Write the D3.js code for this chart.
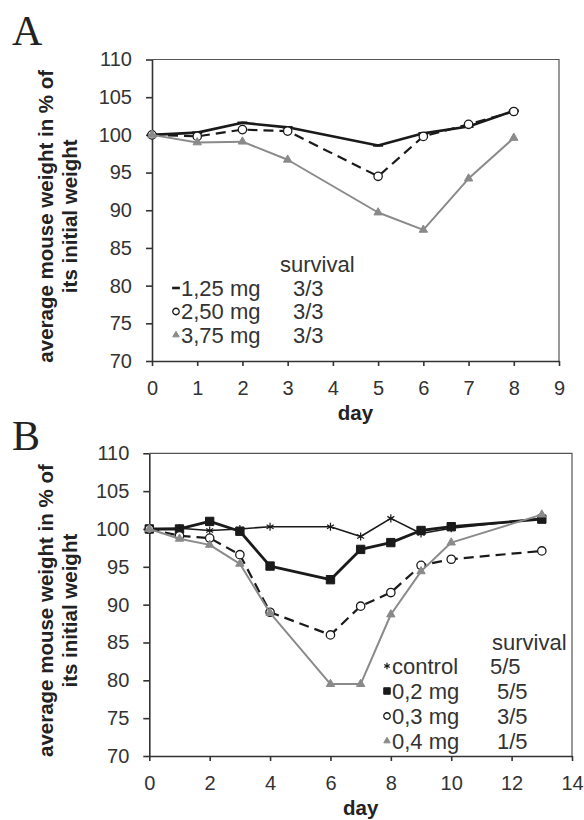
<!DOCTYPE html>
<html>
<head>
<meta charset="utf-8">
<script src="https://cdn.jsdelivr.net/npm/d3@7"></script>
<style>
    body { margin: 0; background: #fff; }
    svg text { font-family: "Liberation Sans", Arial, sans-serif; }
    .tick text { font-size: 20px; fill: #333; }
    .axis path, .axis line { stroke: #333; stroke-width: 1.6; }
    .frame { stroke: #555; stroke-width: 1.2; fill: none; }
    .ytitle, .xtitle { font-weight: bold; font-size: 20.5px; fill: #222; }
    .panel-label { font-family: "Liberation Serif", "Times New Roman", serif !important; font-size: 42px; fill: #222; }
    .legend text { font-size: 22px; fill: #333; }
</style>
</head>
<body>
<svg id="svg" width="584" height="820"></svg>
<script>
// panel A
const daysA = [0, 1, 2, 3, 5, 6, 7, 8];
const mg125 = [100, 100.3, 101.6, 101.0, 98.6, 100.2, 101.1, 103.2];
const mg250 = [100, 99.8, 100.7, 100.5, 94.5, 99.8, 101.4, 103.1];
const mg375 = [100, 99.0, 99.1, 96.7, 89.7, 87.4, 94.2, 99.6];
const labelsA = ['1,25 mg', '2,50 mg', '3,75 mg'];
const survivalA = ['3/3', '3/3', '3/3'];
const xTicksA = [0, 1, 2, 3, 4, 5, 6, 7, 8, 9];

// panel B
const daysB = [0, 1, 2, 3, 4, 6, 7, 8, 9, 10, 13];
const control = [100, 100.1, 99.8, 100, 100.3, 100.3, 99.0, 101.4, 99.4, 100.1, 101.4];
const mg02 = [100, 100, 101, 99.7, 95.1, 93.3, 97.3, 98.2, 99.8, 100.3, 101.3];
const mg03 = [100, 99.1, 98.8, 96.6, 89, 86, 89.8, 91.6, 95.2, 96, 97.1];
const mg04 = [100, 98.7, 97.9, 95.4, 88.9, 79.5, 79.5, 88.7, 94.4, 98.2, 101.9];
const labelsB = ['control', '0,2 mg', '0,3 mg', '0,4 mg'];
const survivalB = ['5/5', '5/5', '3/5', '1/5'];
const xTicksB = [0, 2, 4, 6, 8, 10, 12, 14];

const yTicks = [70, 75, 80, 85, 90, 95, 100, 105, 110];

// marker shapes
const symDash = {
    draw(ctx, size) {
        const w = Math.sqrt(size) / 2;
        ctx.moveTo(-w, 0);
        ctx.lineTo(w, 0);
    }
};

const styles = {
    dash:     {stroke: '#1a1a1a', width: 2.6, dasharray: null, symbol: symDash, size: 100, fill: 'none', mstroke: '#1a1a1a', mwidth: 2.6},
    circle:   {stroke: '#1a1a1a', width: 2.2, dasharray: '10,6', symbol: d3.symbolCircle, size: 55, fill: '#fff', mstroke: '#1a1a1a', mwidth: 1.3},
    triangle: {stroke: '#8a8a8a', width: 2, dasharray: null, symbol: d3.symbolTriangle, size: 30, fill: '#8a8a8a', mstroke: '#8a8a8a', mwidth: 1},
    star:     {stroke: '#1a1a1a', width: 1.6, dasharray: null, symbol: d3.symbolAsterisk, size: 45, fill: 'none', mstroke: '#1a1a1a', mwidth: 1.2},
    square:   {stroke: '#1a1a1a', width: 2.8, dasharray: null, symbol: d3.symbolSquare, size: 70, fill: '#1a1a1a', mstroke: '#1a1a1a', mwidth: 1}
};

const svg = d3.select('#svg');

function drawPanel(cfg) {
    const g = svg.append('g');

    const x = d3.scaleLinear().domain(cfg.xDomain).range([cfg.left, cfg.right]);
    const y = d3.scaleLinear().domain([70, 110]).range([cfg.bottom, cfg.top]);

    // top and right border
    g.append('path')
        .attr('class', 'frame')
        .attr('d', `M${cfg.left},${cfg.top}H${cfg.right}V${cfg.bottom}`);

    g.append('g')
        .attr('class', 'axis')
        .attr('transform', `translate(0,${cfg.bottom})`)
        .call(d3.axisBottom(x).tickValues(cfg.xTicks).tickSize(5).tickSizeOuter(0).tickPadding(15));

    g.append('g')
        .attr('class', 'axis')
        .attr('transform', `translate(${cfg.left},0)`)
        .call(d3.axisLeft(y).tickValues(yTicks).tickSize(6).tickSizeOuter(0).tickPadding(14));

    const line = d3.line()
        .x(d => x(d[0]))
        .y(d => y(d[1]));

    cfg.series.forEach(s => {
        const st = styles[s.style];
        const pts = cfg.days.map((d, i) => [d, s.values[i]]);
        g.append('path')
            .datum(pts)
            .attr('fill', 'none')
            .attr('stroke', st.stroke)
            .attr('stroke-width', st.width)
            .attr('stroke-dasharray', st.dasharray)
            .attr('stroke-linejoin', 'round')
            .attr('d', line);
        g.append('g').selectAll('path')
            .data(pts)
          .join('path')
            .attr('transform', d => `translate(${x(d[0])},${y(d[1])})`)
            .attr('d', d3.symbol(st.symbol, st.size))
            .attr('fill', st.fill)
            .attr('stroke', st.mstroke)
            .attr('stroke-width', st.mwidth);
    });

    // legend
    const lg = g.append('g').attr('class', 'legend');
    lg.append('text')
        .attr('x', cfg.legend.survivalX)
        .attr('y', cfg.legend.titleY)
        .attr('dy', '0.35em')
        .text('survival');
    cfg.series.forEach((s, i) => {
        const st = styles[s.style];
        const ly = cfg.legend.rowY + i * cfg.legend.rowStep;
        lg.append('path')
            .attr('transform', `translate(${cfg.legend.markerX},${ly})`)
            .attr('d', d3.symbol(st.symbol, st.size * 0.6))
            .attr('fill', st.fill)
            .attr('stroke', st.mstroke)
            .attr('stroke-width', st.mwidth);
        lg.append('text')
            .attr('x', cfg.legend.textX)
            .attr('y', ly)
            .attr('dy', '0.35em')
            .text(cfg.labels[i]);
        lg.append('text')
            .attr('x', cfg.legend.valueX[i])
            .attr('y', ly)
            .attr('dy', '0.35em')
            .text(cfg.survival[i]);
    });

    // axis titles
    const midY = (cfg.top + cfg.bottom) / 2;
    g.append('text')
        .attr('class', 'ytitle')
        .attr('text-anchor', 'middle')
        .attr('transform', `translate(46,${midY + 6}) rotate(-90)`)
        .attr('dy', '0.35em')
        .text('average mouse weight in % of');
    g.append('text')
        .attr('class', 'ytitle')
        .attr('text-anchor', 'middle')
        .attr('transform', `translate(70,${midY + 6}) rotate(-90)`)
        .attr('dy', '0.35em')
        .text('its initial weight');
    g.append('text')
        .attr('class', 'xtitle')
        .attr('text-anchor', 'middle')
        .attr('x', (cfg.left + cfg.right) / 2)
        .attr('y', cfg.bottom + 52)
        .attr('dy', '0.35em')
        .text('day');

    g.append('text')
        .attr('class', 'panel-label')
        .attr('x', 12)
        .attr('y', cfg.labelY)
        .text(cfg.name);
}

drawPanel({
    name: 'A', labelY: 45,
    left: 152, right: 559, top: 59.5, bottom: 361,
    xDomain: [0, 9], xTicks: xTicksA,
    days: daysA,
    series: [
        {values: mg125, style: 'dash'},
        {values: mg250, style: 'circle'},
        {values: mg375, style: 'triangle'}
    ],
    labels: labelsA, survival: survivalA,
    legend: {survivalX: 280, titleY: 264, rowY: 288, rowStep: 23.5, markerX: 176, textX: 181, valueX: [293, 293, 293]}
});

drawPanel({
    name: 'B', labelY: 450,
    left: 149.3, right: 572, top: 453.3, bottom: 756,
    xDomain: [0, 14], xTicks: xTicksB,
    days: daysB,
    series: [
        {values: control, style: 'star'},
        {values: mg02, style: 'square'},
        {values: mg03, style: 'circle'},
        {values: mg04, style: 'triangle'}
    ],
    labels: labelsB, survival: survivalB,
    legend: {survivalX: 492, titleY: 642, rowY: 666, rowStep: 25, markerX: 387, textX: 392, valueX: [490, 497, 497, 497]}
});
</script>
</body>
</html>
